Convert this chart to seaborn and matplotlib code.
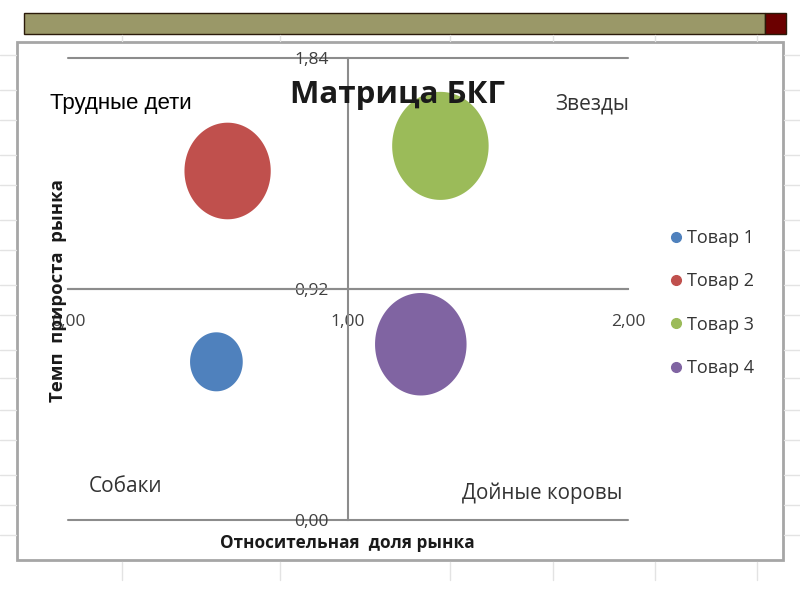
import numpy as np
import pandas as pd
import seaborn as sns
import matplotlib.pyplot as plt
from matplotlib.path import Path
from matplotlib.lines import Line2D
from matplotlib.patches import Rectangle

# BCG matrix data
products = ["Товар 1", "Товар 2", "Товар 3", "Товар 4"]
market_share = [0.53, 0.57, 1.33, 1.26]
market_growth = [0.63, 1.39, 1.49, 0.70]
bubble_size = [3, 8, 10, 9]
colors = ["#4F81BD", "#C0504D", "#9BBB59", "#8064A2"]
x_ticks = [0.0, 1.0, 2.0]
y_ticks = [0.0, 0.92, 1.84]

df = pd.DataFrame({"product": products, "share": market_share,
                   "growth": market_growth, "size": bubble_size})

sns.set_theme(style="white")
plt.rcParams['font.family'] = ['Open Sans', 'DejaVu Sans']

fig = plt.figure(figsize=(8, 6), dpi=100)
W, H = 800, 600

def fx(px):
    return px / W

def fy(py):
    return 1 - py / H

# faint spreadsheet grid behind the slide
for py in [55, 90, 120, 155, 185, 220, 250, 285, 315, 350, 378, 410, 440, 475, 505, 535]:
    fig.add_artist(Line2D([0, fx(16)], [fy(py), fy(py)], color="#e3e3e3", lw=1))
    fig.add_artist(Line2D([fx(784), 1], [fy(py), fy(py)], color="#e3e3e3", lw=1))
for px in [122, 280, 450, 553, 655, 757]:
    fig.add_artist(Line2D([fx(px), fx(px)], [fy(562), fy(580)], color="#e3e3e3", lw=1))
    fig.add_artist(Line2D([fx(px), fx(px)], [fy(35), fy(41)], color="#e3e3e3", lw=1))

# slide header bar
fig.add_artist(Rectangle((fx(24), fy(34)), fx(741), 21 / H, transform=fig.transFigure,
                         fc="#9A9868", ec="#2b1a0a", lw=1))
fig.add_artist(Rectangle((fx(765), fy(34)), fx(21), 21 / H, transform=fig.transFigure,
                         fc="#6B0000", ec="#2b1a0a", lw=1))

# chart frame
fig.add_artist(Rectangle((fx(17), fy(560)), fx(766), 518 / H, transform=fig.transFigure,
                         fill=False, ec="#a6a6a6", lw=2))

ax = fig.add_axes([fx(68), fy(520), fx(560), 462 / H])
ax.patch.set_alpha(0)

# bubbles are a bit taller than wide in the original
t = np.linspace(0, 2 * np.pi, 120)
ellipse = Path(np.column_stack([np.cos(t) / 1.12, np.sin(t)]), closed=True)

sns.scatterplot(data=df, x="share", y="growth", hue="product", palette=colors,
                size="size", sizes=(1806, 6053), marker=ellipse, linewidth=0,
                legend=False, ax=ax, zorder=3)

ax.set_xlim(0, 2)
ax.set_ylim(0, 1.84)
ax.set_xlabel("")
ax.set_ylabel("")
ax.spines["top"].set_visible(False)
ax.spines["right"].set_visible(False)
ax.spines["bottom"].set_position(("data", 0.92))
ax.spines["left"].set_position(("data", 1.0))
for s in ["bottom", "left"]:
    ax.spines[s].set_color("#8c8c8c")
    ax.spines[s].set_linewidth(1.5)

ax.set_xticks(x_ticks)
ax.set_xticklabels([f"{v:.2f}".replace(".", ",") for v in x_ticks])
ax.set_yticks(y_ticks)
ax.set_yticklabels([f"{v:.2f}".replace(".", ",") for v in y_ticks])
ax.tick_params(axis="x", length=5, width=1, color="#8c8c8c", direction="out",
               pad=13, labelsize=12.5, labelcolor="#404040")
ax.tick_params(axis="y", length=0, pad=14, labelsize=12.5, labelcolor="#404040")
ax.yaxis.grid(True, color="#8c8c8c", lw=1.5)
for gl in ax.get_ygridlines():
    gl.set_clip_on(False)

# titles and labels
fig.text(fx(398), fy(95), "Матрица БКГ", ha="center", va="center",
         fontsize=22.5, fontweight="bold", color="#1a1a1a")
fig.text(fx(347), fy(543), "Относительная  доля рынка", ha="center", va="center",
         fontsize=12.3, fontweight="bold", color="#1a1a1a")
fig.text(fx(58), fy(291), "Темп  прироста  рынка", ha="center", va="center",
         rotation=90, fontsize=13.3, fontweight="bold", color="#1a1a1a")

# quadrant names
fig.text(fx(50), fy(104), "Трудные дети", ha="left", va="center",
         fontsize=16, color="black", family=["Liberation Sans", "DejaVu Sans"])
fig.text(fx(592), fy(104), "Звезды", ha="center", va="center", fontsize=15, color="#333333")
fig.text(fx(126), fy(486), "Собаки", ha="center", va="center", fontsize=15, color="#333333")
fig.text(fx(542), fy(493), "Дойные коровы", ha="center", va="center", fontsize=14.8, color="#333333")

handles = [Line2D([], [], marker="o", ls="", color=c, markersize=7) for c in colors]
fig.legend(handles, products, loc="center left", bbox_to_anchor=(fx(651), fy(303)),
           frameon=False, fontsize=13, labelspacing=1.40, handletextpad=0.1,
           handlelength=1.0, labelcolor="#333333")

fig.savefig("out.png", dpi=100)
